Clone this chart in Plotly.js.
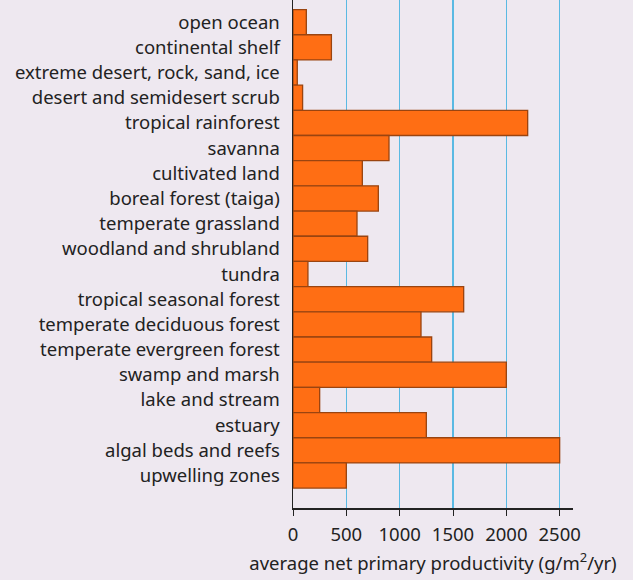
<!DOCTYPE html>
<html><head><meta charset="utf-8">
<script src="https://cdn.plot.ly/plotly-3.0.1.min.js"></script>
<style>html,body{margin:0;padding:0;background:#eee8f0;}</style>
</head><body>
<div id="chart" style="width:633px;height:580px;"></div>
<script>
const ecosystems = [
  "open ocean","continental shelf","extreme desert, rock, sand, ice","desert and semidesert scrub",
  "tropical rainforest","savanna","cultivated land","boreal forest (taiga)","temperate grassland",
  "woodland and shrubland","tundra","tropical seasonal forest","temperate deciduous forest",
  "temperate evergreen forest","swamp and marsh","lake and stream","estuary",
  "algal beds and reefs","upwelling zones"
];
const productivity = [125, 360, 40, 90, 2200, 900, 650, 800, 600, 700, 140, 1600, 1200, 1300, 2000, 250, 1250, 2500, 500];
const tickValues = [0, 500, 1000, 1500, 2000, 2500];

const fontFam = "Noto Sans, sans-serif";
Plotly.newPlot("chart", [{
  type: "bar",
  orientation: "h",
  x: productivity,
  y: ecosystems,
  marker: {color: "#ff6e14", line: {color: "#9a4410", width: 1.3}},
  width: 1,
  hoverinfo: "x+y"
}], {
  width: 633, height: 580,
  paper_bgcolor: "#eee8f0", plot_bgcolor: "#eee8f0",
  margin: {l: 293, r: 60, t: 0, b: 72},
  showlegend: false,
  bargap: 0,
  xaxis: {
    range: [0, 2625], tickvals: tickValues, ticktext: tickValues.map(String),
    showgrid: true, gridcolor: "#5ab9e3", gridwidth: 1.5,
    showline: true, linecolor: "#222", linewidth: 1.5,
    ticks: "outside", ticklen: 6, tickcolor: "#222",
    ticklabelstandoff: 3,
    zeroline: false,
    tickfont: {family: fontFam, size: 18.5, color: "#222"},
    title: {text: "average net primary productivity (g/m<sup>2</sup>/yr)", font: {family: fontFam, size: 18.5, color: "#222"}, standoff: 12}
  },
  yaxis: {
    type: "category", range: [19.29, -0.88],
    showgrid: false, zeroline: false,
    showline: true, linecolor: "#222", linewidth: 1.5,
    ticks: "", ticklabelstandoff: 8,
    tickfont: {family: fontFam, size: 18.5, color: "#222"}
  }
}, {displayModeBar: false, staticPlot: true});
</script>
</body></html>
